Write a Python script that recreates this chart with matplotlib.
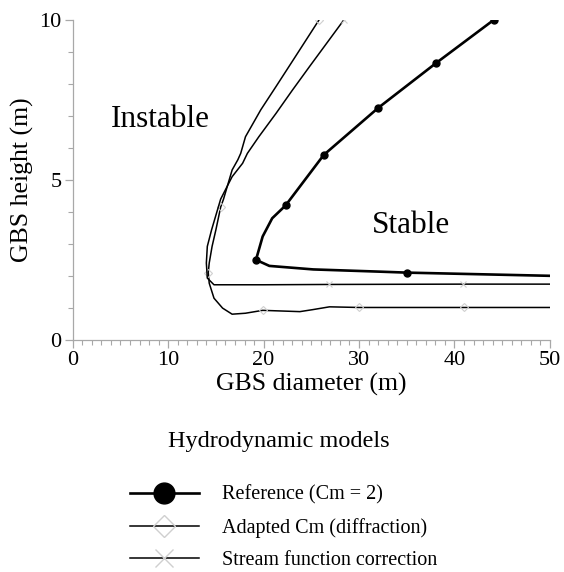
import matplotlib
matplotlib.use("Agg")
import matplotlib.pyplot as plt
from matplotlib.lines import Line2D
from matplotlib.ticker import MultipleLocator

plt.rcParams['font.family'] = ['Liberation Serif', 'DejaVu Serif']

# Stability limits of the GBS for each hydrodynamic model
ref_d = [50.0, 44.0, 38.0, 35.0, 32.2, 25.2, 20.6, 19.2, 19.9, 20.9, 22.3, 26.3, 32.0, 38.1, 44.1]
ref_h = [2.0, 2.04, 2.08, 2.1, 2.13, 2.2, 2.31, 2.5, 3.23, 3.8, 4.2, 5.78, 7.25, 8.66, 10.0]
ref_marks = [3, 7, 10, 11, 12, 13, 14]

adp_d = [50.0, 41.0, 30.0, 26.9, 25.1, 23.8, 19.9, 18.1, 16.7, 15.7, 14.8, 14.3, 14.2, 14.3,
         14.6, 15.0, 15.5, 15.8, 16.7, 17.3, 17.6, 18.1, 19.7, 21.3, 23.1, 25.8]
adp_h = [1.01, 1.01, 1.01, 1.03, 0.94, 0.88, 0.92, 0.83, 0.80, 0.99, 1.30, 1.77, 2.10, 2.40,
         2.92, 3.44, 4.15, 4.40, 5.31, 5.63, 5.83, 6.35, 7.19, 7.92, 8.75, 10.0]
adp_marks = [1, 2, 6, 12, 16, 25]

str_d = [50.0, 40.9, 26.9, 20.0, 14.8, 14.1, 14.0, 14.1, 14.55, 15.5, 16.7, 17.8, 18.3, 19.5,
         21.3, 23.0, 24.8, 28.4]
str_h = [1.74, 1.74, 1.73, 1.72, 1.72, 1.93, 2.4, 2.92, 3.44, 4.4, 5.1, 5.52, 5.83, 6.35,
         7.08, 7.8, 8.54, 10.0]
str_marks = [1, 2, 17]

labels = ["Reference (Cm = 2)", "Adapted Cm (diffraction)", "Stream function correction"]
light = "#cfcfcf"
axis_grey = "#a8a8a8"

fig = plt.figure(figsize=(5.64, 5.72), dpi=100)
ax = fig.add_axes([0.129, 0.406, 0.846, 0.559])

ax.plot(adp_d, adp_h, color="black", lw=1.1, marker="D", ms=4, mfc="none",
        mec=light, mew=0.8, markevery=adp_marks, zorder=3)
ax.plot(str_d, str_h, color="black", lw=1.1, marker="x", ms=5, mec=light,
        mew=0.8, markevery=str_marks, zorder=3)
ax.plot(ref_d, ref_h, color="black", lw=1.9, marker="o", ms=5,
        markevery=ref_marks, zorder=4)

ax.set_xlim(0, 50)
ax.set_ylim(0, 10)
ax.xaxis.set_major_locator(MultipleLocator(10))
ax.xaxis.set_minor_locator(MultipleLocator(1))
ax.yaxis.set_major_locator(MultipleLocator(5))
ax.yaxis.set_minor_locator(MultipleLocator(1))

for s in ("top", "right"):
    ax.spines[s].set_visible(False)
for s in ("left", "bottom"):
    ax.spines[s].set_color(axis_grey)
    ax.spines[s].set_linewidth(0.9)
ax.tick_params(which="both", colors=axis_grey, labelcolor="black", direction="out")
ax.tick_params(which="major", length=6, width=0.9, labelsize=16, pad=2)
ax.tick_params(which="minor", length=3.5, width=0.8)

ax.set_xlabel("GBS diameter (m)", fontsize=18.5, labelpad=2)
ax.set_ylabel("GBS height (m)", fontsize=18.5, labelpad=4)

ax.text(9.2, 6.9, "Instable", fontsize=22.5, ha="center", va="center")
ax.text(35.4, 3.57, "Stable", fontsize=22.5, ha="center", va="center")

handles = [
    Line2D([], [], color="black", lw=1.9, marker="o", ms=15),
    Line2D([], [], color="black", lw=1.1, marker="D", ms=11, mfc="none", mec=light, mew=1.0),
    Line2D([], [], color="black", lw=1.1, marker="x", ms=13, mec=light, mew=1.0),
]
fig.text(279 / 564, 1 - 441 / 572, "Hydrodynamic models", fontsize=17.5,
         ha="center", va="center")
fig.legend(handles, labels, loc="upper left", bbox_to_anchor=(0.205, 0.176),
           frameon=False, fontsize=14.5, handlelength=3.45, handletextpad=1.15,
           labelspacing=0.66, borderpad=0.2)

fig.savefig("out.png", dpi=100)
